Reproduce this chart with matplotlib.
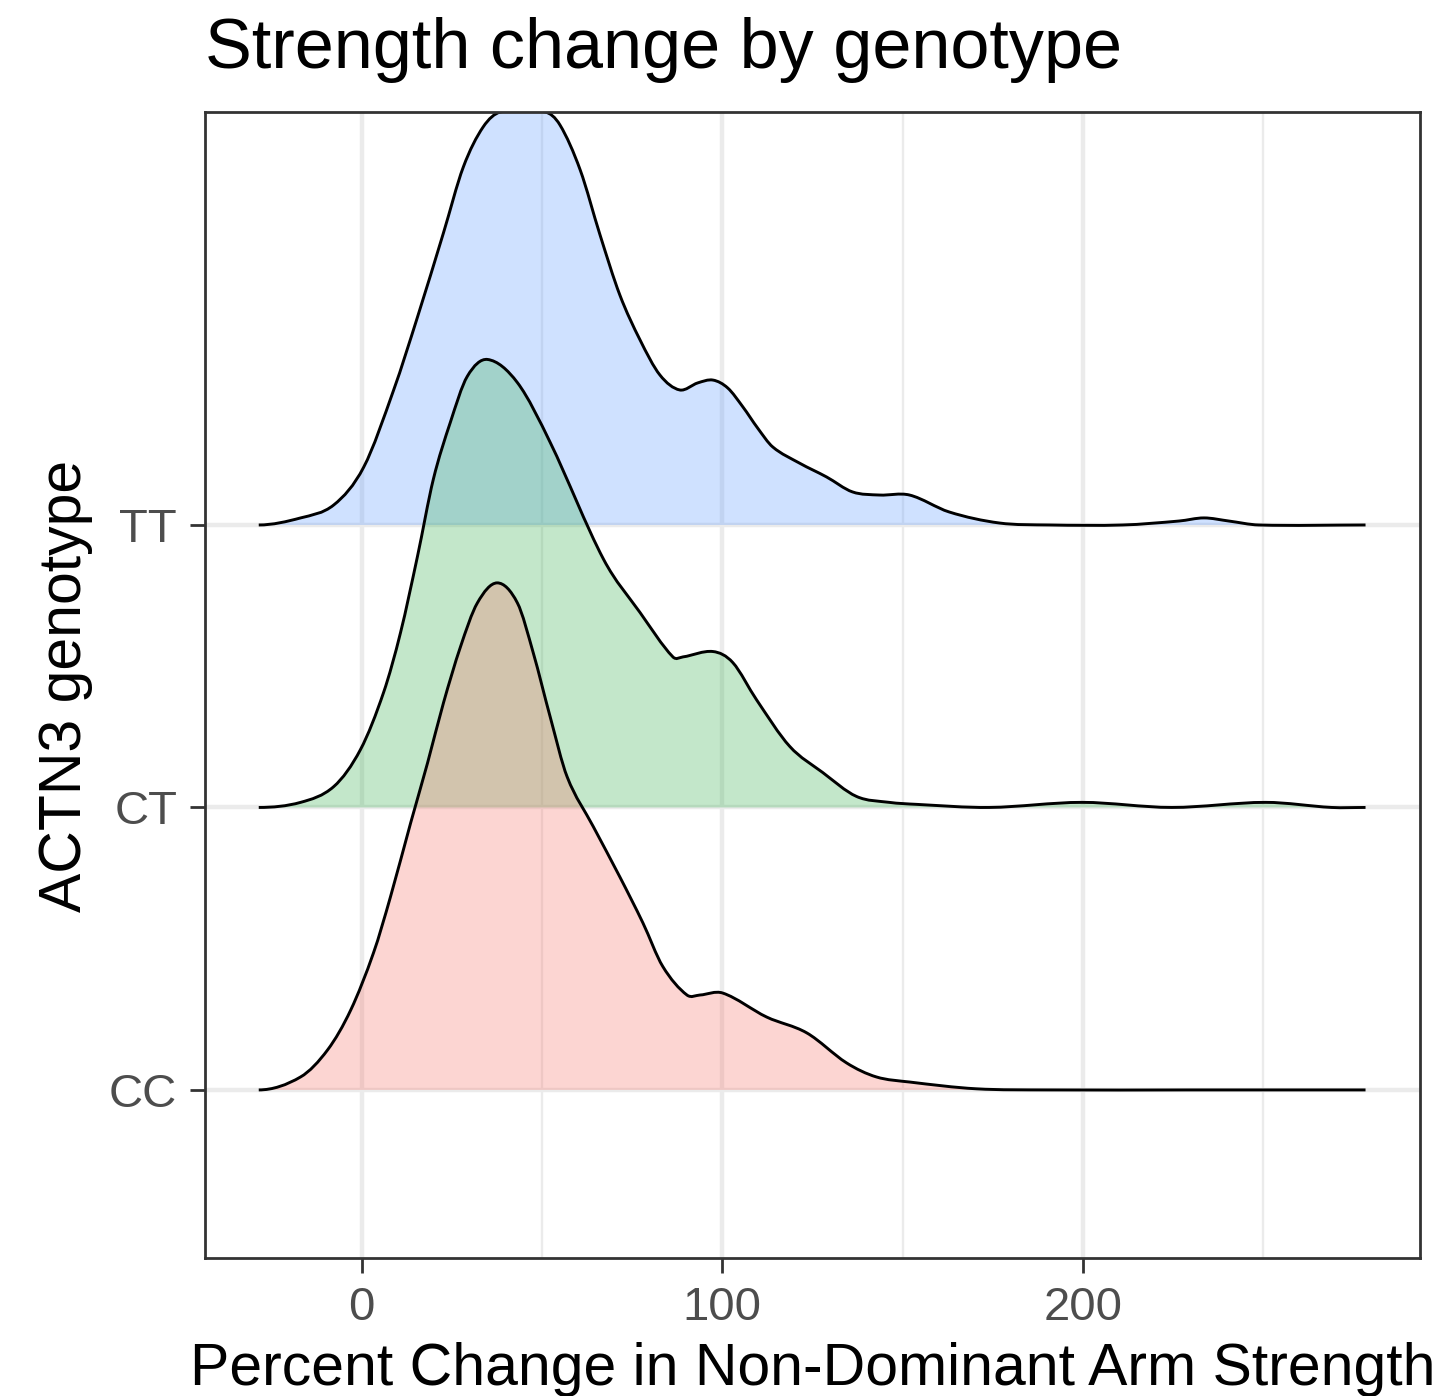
import numpy as np
from matplotlib import pyplot as plt
from matplotlib.path import Path
from matplotlib.patches import PathPatch

plt.rcParams['font.family'] = ['Liberation Sans', 'DejaVu Sans']

# genotypes, bottom to top
genotypes = ['CC', 'CT', 'TT']
colors = ['#F8766D', '#3AB252', '#619CFF']

# density ridges (x = percent change, h = ridge height in row units)
cc_x = [-28.5, -16.9, -9.4, -3.0, 3.3, 8.0, 13.6, 18.3, 22.7, 27.4, 32.1, 37.6, 43.2, 47.6,
        52.3, 57.0, 64.2, 71.6, 78.0, 83.5, 90.2, 93.8, 100.1, 112.3, 123.4, 134.4, 142.7,
        151.9, 170.4, 190.6, 230.0, 278.3]
cc_h = [0.0, 0.046, 0.142, 0.283, 0.485, 0.683, 0.945, 1.158, 1.370, 1.568, 1.724, 1.795,
        1.724, 1.547, 1.320, 1.108, 0.933, 0.754, 0.591, 0.437, 0.336, 0.336, 0.343, 0.258,
        0.202, 0.096, 0.046, 0.028, 0.004, 0.0, 0.0, 0.0]

ct_x = [-28.5, -16.9, -7.7, -0.3, 6.1, 10.8, 15.5, 19.9, 24.6, 29.3, 34.9, 43.2, 52.3, 67.1,
        77.2, 86.3, 89.1, 97.4, 102.9, 109.5, 118.7, 127.8, 137.2, 146.3, 153.8, 174.0,
        199.7, 224.6, 250.6, 268.9, 278.3]
ct_h = [0.0, 0.018, 0.074, 0.205, 0.407, 0.619, 0.889, 1.162, 1.363, 1.526, 1.586, 1.504,
        1.292, 0.878, 0.690, 0.533, 0.533, 0.552, 0.513, 0.381, 0.216, 0.124, 0.039, 0.018,
        0.011, 0.0, 0.018, 0.0, 0.018, 0.0, 0.0]

tt_x = [-28.5, -16.9, -7.7, 0.6, 8.9, 15.5, 22.7, 28.2, 33.7, 38.5, 50.9, 55.0, 60.6, 66.1,
        71.6, 77.2, 82.7, 88.2, 93.2, 97.4, 101.5, 105.7, 109.8, 114.0, 121.4, 128.9, 136.1,
        143.6, 151.9, 162.9, 176.8, 190.6, 211.0, 226.6, 233.5, 240.4, 248.7, 278.3]
tt_h = [0.0, 0.025, 0.071, 0.205, 0.478, 0.736, 1.034, 1.267, 1.409, 1.462, 1.462, 1.416,
        1.257, 1.027, 0.814, 0.655, 0.531, 0.478, 0.503, 0.513, 0.485, 0.418, 0.343, 0.276,
        0.219, 0.170, 0.117, 0.106, 0.106, 0.046, 0.007, 0.0, 0.0, 0.014, 0.025, 0.014,
        0.0, 0.0]

ridges = [(cc_x, cc_h), (ct_x, ct_h), (tt_x, tt_h)]


def smooth_curve(xs, ys):
    # cubic hermite through the points (slopes from neighbours), drawn as bezier segments
    xs = np.asarray(xs, float)
    ys = np.asarray(ys, float)
    n = len(xs)
    m = np.zeros(n)
    m[1:-1] = (ys[2:] - ys[:-2]) / (xs[2:] - xs[:-2])
    verts = [(xs[0], ys[0])]
    codes = [Path.MOVETO]
    for i in range(n - 1):
        dx = xs[i + 1] - xs[i]
        verts += [(xs[i] + dx / 3, ys[i] + m[i] * dx / 3),
                  (xs[i + 1] - dx / 3, ys[i + 1] - m[i + 1] * dx / 3),
                  (xs[i + 1], ys[i + 1])]
        codes += [Path.CURVE4] * 3
    return verts, codes


fig = plt.figure(figsize=(14.54, 13.96), dpi=100)
ax = fig.add_axes([205 / 1454, 138 / 1396, 1215 / 1454, 1146 / 1396])

# TT first so the lower ridges sit on top
for i in [2, 1, 0]:
    xs, hs = ridges[i]
    base = i + 1
    ys = np.array(hs) + base
    verts, codes = smooth_curve(xs, ys)
    fill_verts = verts + [(xs[-1], base), (xs[0], base), (xs[0], base)]
    fill_codes = codes + [Path.LINETO, Path.LINETO, Path.CLOSEPOLY]
    ax.add_patch(PathPatch(Path(fill_verts, fill_codes), facecolor=colors[i], alpha=0.3,
                           edgecolor='none', zorder=2 + (2 - i)))
    ax.add_patch(PathPatch(Path(verts, codes), facecolor='none', edgecolor='black',
                           linewidth=2.1, zorder=2 + (2 - i)))

ax.set_xlim(-43.4, 293.4)
ax.set_ylim(0.405, 4.462)

ax.set_xticks([0, 100, 200])
ax.set_xticks([50, 150, 250], minor=True)
ax.set_yticks([1, 2, 3])
ax.set_yticklabels(genotypes)
ax.set_axisbelow(True)
ax.grid(which='major', color='#EBEBEB', linewidth=3.2)
ax.grid(which='minor', axis='x', color='#EBEBEB', linewidth=1.7)

ax.tick_params(which='major', length=11, width=2, color='#333333', labelcolor='#4D4D4D',
               labelsize=34, pad=9)
ax.tick_params(which='minor', length=0)
for s in ax.spines.values():
    s.set_color('#333333')
    s.set_linewidth(2)

fig.text(205 / 1454, 1 - 68 / 1396, 'Strength change by genotype', fontsize=50.5,
         ha='left', va='baseline')
fig.text((205 + 1420) / 2 / 1454, 11 / 1396, 'Percent Change in Non-Dominant Arm Strength',
         fontsize=42.4, ha='center', va='baseline')
fig.text(81 / 1454, 1 - 686 / 1396, 'ACTN3 genotype', fontsize=42.4, rotation=90,
         ha='center', va='baseline', rotation_mode='anchor')

fig.savefig('out.png', dpi=100)
